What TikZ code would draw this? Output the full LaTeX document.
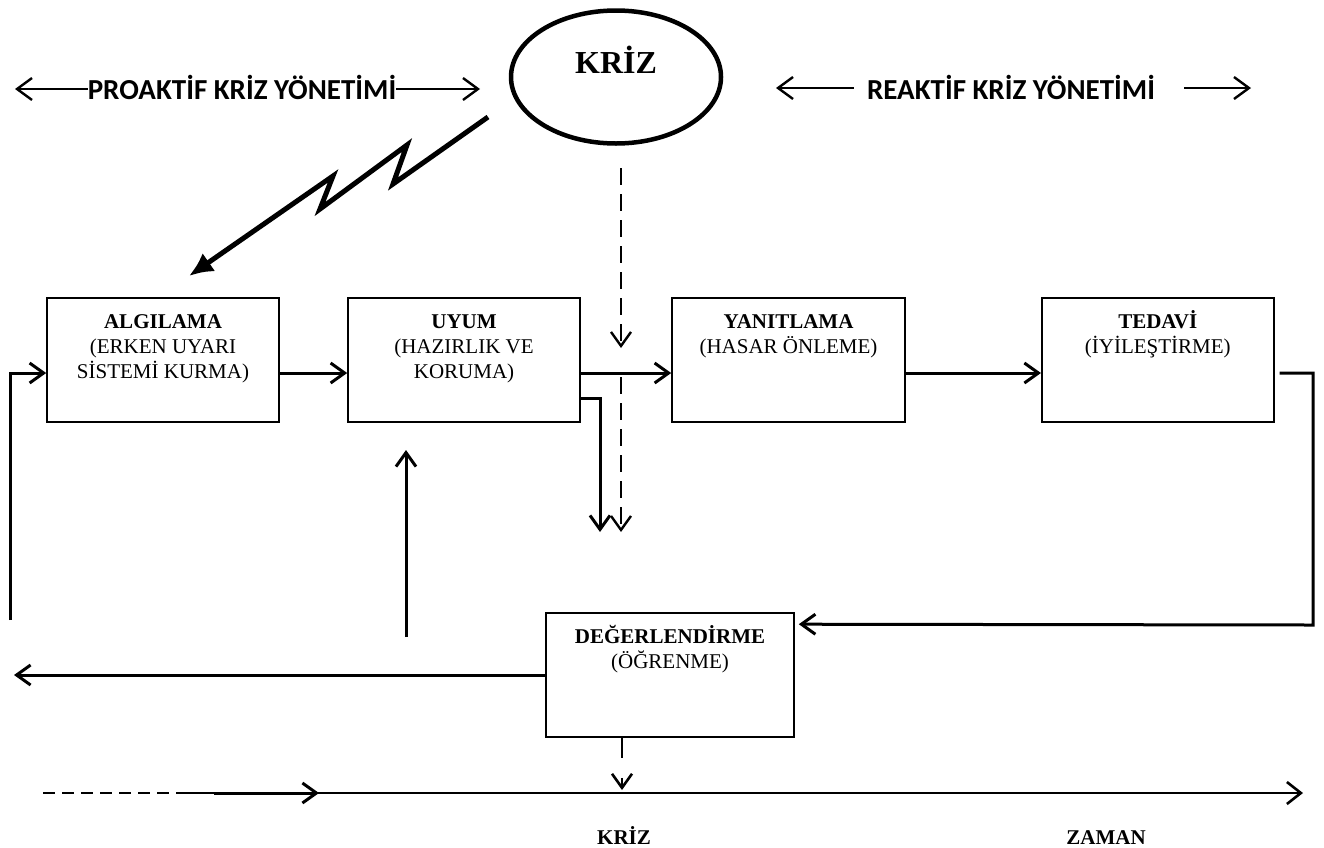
\documentclass[tikz,border=0pt]{standalone}
\usepackage{fontspec}
\setmainfont{Liberation Serif}
\newfontfamily\calibrifont{Carlito}
\usetikzlibrary{arrows.meta,shapes.geometric,calc}
\begin{document}
\begin{tikzpicture}[x=1pt,y=-1pt,
  box/.style={draw, line width=1.6pt, minimum width=232pt, minimum height=124pt, inner sep=0pt},
  boxtext/.style={anchor=base, align=center, font=\fontsize{21}{25}\selectfont, inner sep=0pt},
  conn/.style={line width=3pt, -{Straight Barb[length=14pt,width=20pt]}},
  toparr/.style={line width=2.4pt, -{Straight Barb[length=15pt,width=22pt]}},
  dasharr/.style={line width=2.4pt, dash pattern=on 17pt off 9pt, -{Straight Barb[length=14pt,width=20pt]}},
  toptext/.style={font=\calibrifont\bfseries\fontsize{29}{34}\selectfont, inner ysep=0pt, anchor=base},
  bottext/.style={font=\bfseries\fontsize{21}{25}\selectfont, inner sep=0pt, anchor=base},
]
\useasboundingbox (0,0) rectangle (1324,847);

% crisis ellipse
\node[draw, ellipse, line width=4.5pt, minimum width=210pt, minimum height=133pt] (kriz) at (616,77) {};
\node[font=\bfseries\fontsize{32}{38}\selectfont, inner sep=0pt, anchor=base] (krizt) at (616,73) {KRİZ};

% top labels
\node[toptext, inner xsep=0pt] (pro) at (242,99) {PROAKTİF KRİZ YÖNETİMİ};
\node[toptext, inner xsep=13pt] (rea) at (1011,99) {REAKTİF KRİZ YÖNETİMİ};
\coordinate (proL) at (15,89);
\coordinate (proR) at (480,89);
\coordinate (reaL) at (776,88);
\coordinate (reaR0) at (1184,88);
\coordinate (reaR) at (1251,88);
\draw[toparr] (pro.west |- proL) -- (proL);
\draw[toparr] (pro.east |- proR) -- (proR);
\draw[toparr] (rea.west |- reaL) -- (reaL);
\draw[toparr] (reaR0) -- (reaR);

% boxes
\node[box] (alg) at (163,360) {};
\node[box] (uyum) at (464,360) {};
\node[box, minimum width=233pt] (yan) at (788.5,360) {};
\node[box] (ted) at (1157.75,360) {};
\node[box, minimum width=248pt] (deg) at (670,675) {};

\node[boxtext] (algt) at ([yshift=-81pt]alg.north) {\textbf{ALGILAMA}\\(ERKEN UYARI\\SİSTEMİ KURMA)};
\node[boxtext] (uyumt) at ([yshift=-81pt]uyum.north) {\textbf{UYUM}\\(HAZIRLIK VE\\KORUMA)};
\node[boxtext] (yant) at ([yshift=-56pt]yan.north) {\textbf{YANITLAMA}\\(HASAR ÖNLEME)};
\node[boxtext] (tedt) at ([yshift=-56pt]ted.north) {\textbf{TEDAVİ}\\(İYİLEŞTİRME)};
\node[boxtext] (degt) at ([yshift=-56pt]deg.north) {\textbf{DEĞERLENDİRME}\\(ÖĞRENME)};

% lightning
\coordinate (l0) at (488,117);
\coordinate (l1) at (393,184);
\coordinate (l2) at (407,145);
\coordinate (l3) at (320,209);
\coordinate (l4) at (333,176);
\coordinate (l5) at (189,276);
\draw[line width=5pt, line join=miter, -{Latex[length=24pt,width=22pt]}] (l0) -- (l1) -- (l2) -- (l3) -- (l4) -- (l5);

% dashed crisis impact
\coordinate (d0) at (621,168);
\coordinate (d1) at (621,348);
\coordinate (d2) at (621,377);
\coordinate (d3) at (621,532);
\draw[dasharr] (d0) -- (d1);
\draw[dasharr] (d2) -- (d3);

% main flow
\draw[conn] ([yshift=-13pt]alg.east) -- ([yshift=-13pt]uyum.west);
\draw[conn] ([yshift=-13pt]uyum.east) -- ([yshift=-13pt]yan.west);
\draw[conn] ([yshift=-13pt]yan.east) -- ([yshift=-13pt]ted.west);
\coordinate (u1) at (600,532);
\draw[conn] ([yshift=-38pt]uyum.east) -| (u1);
\coordinate (tr) at (1313,625);
\draw[conn] ([xshift=5pt,yshift=-13pt]ted.east) -| (tr) -- ([xshift=4pt,yshift=-12pt]deg.north east);

% feedback
\coordinate (lf) at (14,675);
\draw[conn] (deg.west) -- (lf);
\coordinate (fb0) at (10,620);
\draw[conn] (fb0) |- ([yshift=-13pt]alg.west);
\coordinate (up0) at (406,637);
\coordinate (up1) at (406,450);
\draw[conn] (up0) -- (up1);

% timeline
\coordinate (t0) at (43,793);
\coordinate (t1) at (182,793);
\coordinate (tm) at (319,793);
\coordinate (te) at (1303,793);
\draw[line width=2.2pt, dash pattern=on 12pt off 7pt] (t0) -- (t1);
\draw[line width=2.6pt, -{Straight Barb[length=14pt,width=22pt]}] (t1) -- (te);
\draw[conn] ([xshift=32pt]t1) -- (tm);
\coordinate (dk) at (622,790);
\draw[line width=2.6pt, dash pattern=on 20pt off 20pt, -{Straight Barb[length=14pt,width=20pt]}] ([xshift=-48pt]deg.south) -- (dk);

\node[bottext] (krizb) at (624,844) {KRİZ};
\node[bottext] (zaman) at (1106,844) {ZAMAN};
\end{tikzpicture}
\end{document}
